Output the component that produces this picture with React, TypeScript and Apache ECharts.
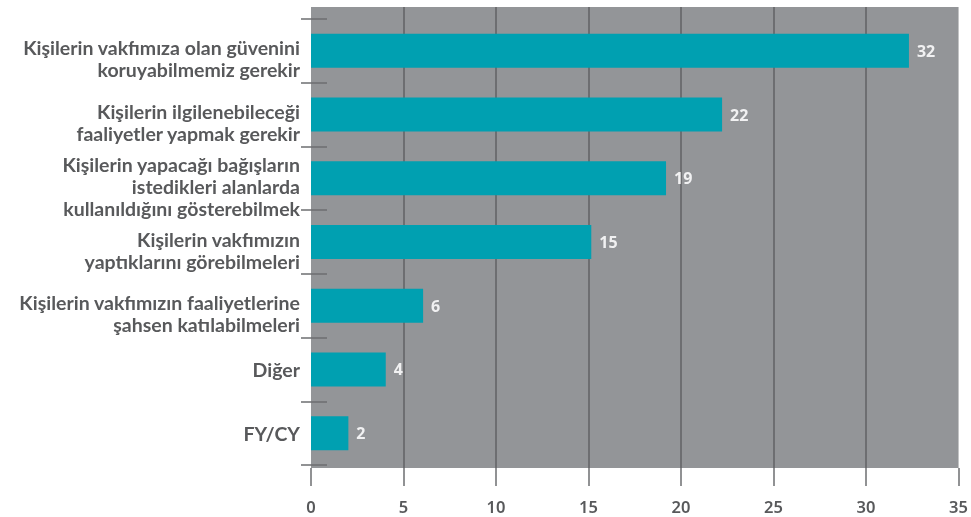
import React, { useEffect, useRef } from "react";
import * as echarts from "echarts";

const categories = [
  "Kişilerin vakfımıza olan güvenini\nkoruyabilmemiz gerekir",
  "Kişilerin ilgilenebileceği\nfaaliyetler yapmak gerekir",
  "Kişilerin yapacağı bağışların\nistedikleri alanlarda\nkullanıldığını gösterebilmek",
  "Kişilerin vakfımızın\nyaptıklarını görebilmeleri",
  "Kişilerin vakfımızın faaliyetlerine\nşahsen katılabilmeleri",
  "Diğer",
  "FY/CY",
];
const values = [32, 22, 19, 15, 6, 4, 2];
const xMin = 0;
const xMax = 35;
const xInterval = 5;

const GRAY = "#939598";
const DARK = "#6d6e71";
const TEXT = "#58595b";
const TEAL = "#00a0b1";
const FONT = "'Noto Sans', sans-serif";
const CAT_FONT = "Lato, 'Noto Sans', sans-serif";

export default function App() {
  const ref = useRef<HTMLDivElement>(null);
  useEffect(() => {
    if (!ref.current) return;
    const chart = echarts.init(ref.current, undefined, { renderer: "svg" });
    chart.setOption({
      animation: false,
      grid: [
        { left: 311, right: 6, top: 19, height: 446, containLabel: false },
        {
          left: 311,
          right: 6,
          top: 7,
          height: 461,
          show: true,
          backgroundColor: GRAY,
          borderWidth: 0,
          z: -1,
        },
      ],
      xAxis: [
        {
          gridIndex: 0,
          type: "value",
          min: xMin,
          max: xMax,
          interval: xInterval,
          show: false,
          splitLine: { show: false },
        },
        {
          gridIndex: 1,
          type: "value",
          min: xMin,
          max: xMax,
          interval: xInterval,
          position: "bottom",
          axisLine: { show: false },
          axisTick: { show: true, length: 18, lineStyle: { color: DARK, width: 1.5 } },
          axisLabel: {
            margin: 30,
            color: TEXT,
            fontFamily: FONT,
            fontSize: 16.5,
            fontWeight: 600,
          },
          splitLine: {
            show: true,
            showMinLine: false,
            showMaxLine: false,
            lineStyle: { color: DARK, width: 2 },
          },
        },
      ],
      yAxis: [
        {
          gridIndex: 0,
          type: "category",
          inverse: true,
          data: categories,
          axisLine: { show: false },
          axisTick: { show: true, length: 10, lineStyle: { color: DARK, width: 1.5 } },
          axisLabel: {
            margin: 11,
            color: TEXT,
            fontFamily: CAT_FONT,
            fontSize: 19.5,
            fontWeight: "bold",
            align: "right",
            formatter: (v: string) => {
              const lines = v.split("\n");
              const body = lines.map((l) => "{t|" + l + "}").join("\n");
              return lines.length > 1 ? "{pad| }\n" + body : body;
            },
            rich: {
              t: {
                color: TEXT,
                fontFamily: CAT_FONT,
                fontSize: 19.5,
                fontWeight: "bold",
                lineHeight: 22,
                align: "right",
              },
              pad: { fontSize: 10, lineHeight: 16, align: "right" },
            },
          },
        },
        {
          gridIndex: 0,
          type: "category",
          inverse: true,
          data: categories,
          position: "left",
          axisLine: { show: false },
          axisTick: { show: true, inside: true, length: 16, lineStyle: { color: DARK, width: 1.5 } },
          axisLabel: { show: false },
        },
        {
          gridIndex: 1,
          type: "value",
          show: false,
          min: 0,
          max: 1,
          splitLine: { show: false },
        },
      ],
      series: [
        {
          type: "bar",
          xAxisIndex: 0,
          yAxisIndex: 0,
          data: values,
          barWidth: 34,
          itemStyle: { color: TEAL },
          z: 5,
          label: {
            show: true,
            position: "right",
            distance: 8,
            color: "#f1f1f2",
            fontFamily: FONT,
            fontSize: 16,
            fontWeight: "bold",
          },
        },
      ],
    });
    return () => chart.dispose();
  }, []);
  return (
    <div
      ref={ref}
      style={{ position: "fixed", left: 0, top: 0, width: 971, height: 517 }}
    />
  );
}
